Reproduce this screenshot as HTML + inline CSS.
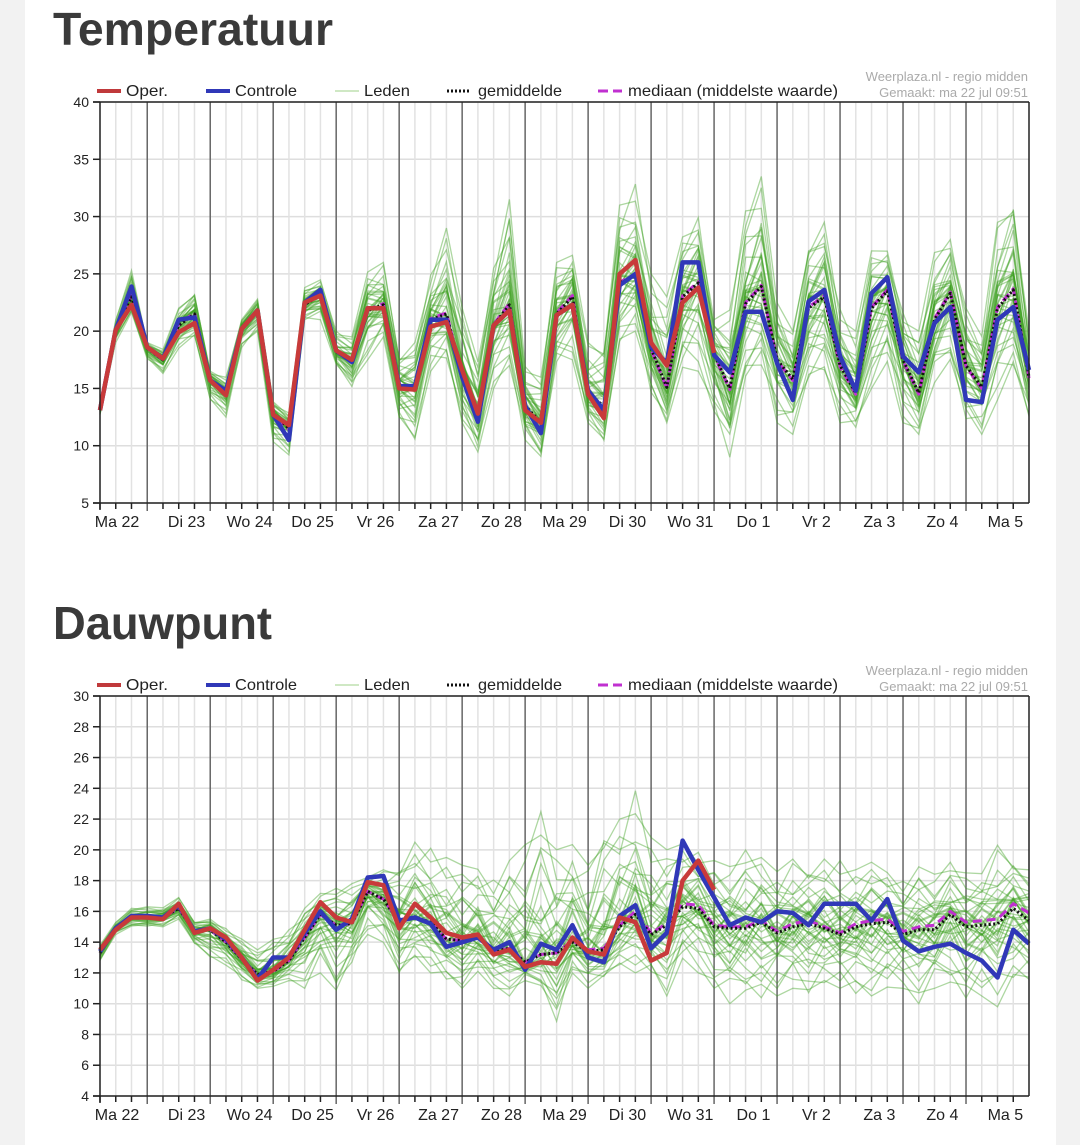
<!DOCTYPE html>
<html><head><meta charset="utf-8"><title>Temperatuur en Dauwpunt</title>
<style>
html,body{margin:0;padding:0;background:#f2f2f2;}
#wrap{position:relative;width:1080px;height:1145px;overflow:hidden;}
svg{display:block;font-family:"Liberation Sans",Arial,sans-serif;}
</style></head>
<body>
<div id="wrap">
<svg id="svg" width="1080" height="1145" viewBox="0 0 1080 1145">
  <rect x="0" y="0" width="1080" height="1145" fill="#f2f2f2"/>
  <rect x="25" y="0" width="1031" height="1145" fill="#ffffff"/>
  <text x="53" y="45" font-size="46" font-weight="bold" fill="#3a3a3a" textLength="280" lengthAdjust="spacingAndGlyphs">Temperatuur</text>
  <text x="53" y="639" font-size="46" font-weight="bold" fill="#3a3a3a" textLength="219" lengthAdjust="spacingAndGlyphs">Dauwpunt</text>
  <g id="chart1"></g>
  <g id="chart2"></g>
</svg>
</div>
<script>
// ---- shared categories ----
const dayLabels = ["Ma 22","Di 23","Wo 24","Do 25","Vr 26","Za 27","Zo 28","Ma 29","Di 30","Wo 31","Do 1","Vr 2","Za 3","Zo 4","Ma 5"];
const stepCount = 60; // 6-hourly points, starting Ma 22 06:00

// ---- temperature data ----
const tempOper = [13.1,20.1,22.3,18.6,17.6,19.9,20.7,15.7,14.4,20.2,21.8,12.7,11.8,22.5,23.1,18.3,17.5,22,22,15,14.9,20.4,20.8,16.6,12.8,20.5,21.8,13.1,12,21.4,22.3,14.5,12.4,25,26.2,19,17,22.5,23.8,18.1];
const tempControl = [13.1,20.1,23.9,18.6,17.6,21,21.2,15.7,14.8,20.2,21.8,12.7,10.5,22.5,23.6,18.3,17.3,22,22,15.2,15.2,21,21,16,12.1,20.5,21.8,13.5,11.1,21.4,22.3,14.8,13.1,24,25,18.6,17.2,26,26,17.9,16.4,21.7,21.7,17.2,14,22.6,23.6,17.8,14.8,23.3,24.7,17.8,16.4,20.7,22.1,14,13.8,21,22.1,16.6];
const tempMean = [13.2,20,23,18.5,17.5,20.5,21.5,15.8,14.6,20.3,21.8,12.8,11.5,22.3,23.2,18.2,17.4,21.8,22.3,15.3,15,21,21.5,16.2,12.8,20.5,22.3,13.5,12,21.5,23,14.4,13.5,24.2,24.8,18.5,15.1,23,24.2,18,15,22.4,23.9,17.5,15.8,22,23,17,14.6,22,23.5,17.5,14.6,21,23.3,17,15.1,22,23.6,16];
const tempMedian = [13.2,20,23.1,18.5,17.5,20.6,21.6,15.8,14.5,20.3,21.9,12.7,11.4,22.4,23.3,18.2,17.4,21.9,22.4,15.2,15,21.1,21.6,16.1,12.7,20.6,22.4,13.4,11.9,21.6,23.1,14.3,13.4,24.3,24.9,18.4,15,23.1,24.3,17.9,14.9,22.5,24,17.4,15.7,22.1,23.1,16.9,14.5,22.1,23.6,17.4,14.5,21.1,23.4,16.9,15,22.1,23.7,15.9];
const tempHigh = [13.5,21,25.3,19,18.5,22,23.5,16.5,16,21,22.8,14,13,23.8,24.5,20,19.5,25.5,26,18,19,25,29,22,18,26,31.5,17,16,26,27,19,19,31,33,25,23,29,30.5,21,22,30.5,33.5,23,20,28,29.5,22,20,27,27.5,22,20,27,28,22,20,29.5,32,20];
const tempLow = [12.7,19,21.5,17.5,16.3,18.5,19.3,14,12.5,18.5,20,10,9.2,21,21,17,15,17.5,19.5,12,10.5,16.5,17.5,12,9,15,17,10.5,8.8,17,17.5,12,10,19,20,14.5,12,16,16.5,13,9,15.5,16.5,12,11,15,16.5,12,11.5,15,16.5,12,11,15.5,17,12,11,14,16,12.5];
const tempTicks = [5,10,15,20,25,30,35,40];

// ---- dew point data ----
const dewOper = [13.5,14.8,15.6,15.6,15.5,16.5,14.6,14.9,14.3,13,11.5,12.2,13,14.8,16.6,15.6,15.3,17.9,17.7,14.9,16.5,15.6,14.6,14.3,14.5,13.2,13.5,12.4,12.7,12.6,14.3,13.4,13.2,15.6,15.3,12.8,13.3,18,19.3,17.4];
const dewControl = [13.4,14.9,15.7,15.7,15.6,16.4,14.7,14.9,14.2,13,11.6,13,13,14.6,16,14.8,15.5,18.2,18.3,15.4,15.6,15.2,13.7,14,14.3,13.5,14,12.2,13.9,13.5,15.1,13,12.7,15.7,16.4,13.6,14.6,20.6,18.7,16.9,15.1,15.6,15.3,16,15.9,15.1,16.5,16.5,16.5,15.4,16.8,14.1,13.4,13.7,13.9,13.3,12.8,11.7,14.8,13.9];
const dewMean = [13.3,14.9,15.6,15.6,15.6,16.2,14.7,14.8,14,12.9,11.9,12.1,12.8,14.3,15.8,15.1,15.2,17.3,16.8,15.3,15.6,15.3,14.2,14.1,14.3,13.4,13.6,12.7,13.2,13.3,14,13.4,13.5,15,15.8,14.5,15.1,16.3,16.2,15,14.9,14.9,15.3,14.6,15,15.2,14.9,14.5,15,15.2,15.3,14.5,14.8,14.8,15.8,15,15.1,15.2,16.2,15.4];
const dewMedian = [13.3,14.9,15.6,15.6,15.6,16.2,14.7,14.8,14,12.9,11.9,12.1,12.8,14.3,15.8,15.1,15.2,17.3,16.8,15.3,15.6,15.3,14.2,14.1,14.3,13.4,13.6,12.7,13.2,13.3,14.1,13.5,13.6,15.1,16,14.6,15.2,16.5,16.4,15.1,15,15,15.4,14.7,15.2,15.4,15,14.6,15.2,15.4,15.5,14.7,15,15.1,16,15.3,15.4,15.5,16.5,15.9];
const dewHigh = [13.8,15.3,16.2,16.3,16.3,16.9,15.4,15.5,14.9,14.2,13.5,14.5,15,16.2,17.2,17.5,17.8,18.3,18.7,19.2,20.5,20.2,19.5,19,19.4,18.5,19.3,20.5,22.5,20,21,19,22,22,24,20.8,20,21,20.2,19.3,19,20,19.5,19,19.4,19,19.4,19.4,18.7,19.2,19,18.3,18.9,18.5,19.2,18.5,18.8,20.3,19.5,18.7];
const dewLow = [12.8,14.5,15,15,15,15.5,13.8,13,12.5,11.5,11,11,11.5,11,12,10.5,12.5,14.5,14,11.5,13,12,11.5,11,11.8,11,10.5,11.5,11,8.5,12,11,11.5,12.5,12,12,10.5,12.5,12,11,10,10.5,10,10.5,11,10,11.3,11,10.5,10.5,10.5,11,10,11,11,10,10.5,9.8,11,11.5];
const dewTicks = [4,6,8,10,12,14,16,18,20,22,24,26,28,30];

// ---- ensemble member placement tables (fixed quantiles within spread) ----
const memberQuantiles = [0.02,0.1,0.18,0.25,0.3,0.34,0.38,0.41,0.44,0.46,0.48,0.5,0.52,0.54,0.56,0.59,0.62,0.66,0.7,0.75,0.82,0.9,0.98,0.36,0.43,0.47,0.51,0.55,0.6,0.64,0.4,0.45,0.49,0.53,0.57,0.68,0.3,0.72,0.15,0.85];
const memberWobble = [0.12,-0.18,0.05,0.22,-0.1,-0.25,0.15,0.02,-0.14,0.2,-0.06,0.09,-0.2];

const NS = "http://www.w3.org/2000/svg";
function mk(parent, tag, attrs){
  const e = document.createElementNS(NS, tag);
  for (const k in attrs) e.setAttribute(k, attrs[k]);
  parent.appendChild(e);
  return e;
}

function drawChart(gid, cfg){
  const g = document.getElementById(gid);
  const L = 100, R = 1029, T = cfg.top, B = cfg.bottom;
  const step = (R - L) / (stepCount - 1);
  const xAt = i => L + i * step;
  const yAt = v => B - (v - cfg.min) / (cfg.max - cfg.min) * (B - T);

  // legend
  const ly = T - 11;
  const leg = mk(g, 'g', {});
  
  
  const items = [
    {x:97, label:"Oper.", stroke:"#c0393b", w:4, dash:"none", tx:126, tl:42, name:"legend-oper"},
    {x:206, label:"Controle", stroke:"#3038b8", w:4, dash:"none", tx:235, tl:62, name:"legend-controle"},
    {x:335, label:"Leden", stroke:"#9fd28a", w:1, dash:"none", tx:364, tl:46, name:"legend-leden"},
    {x:447, label:"gemiddelde", stroke:"#111", w:3, dash:"2,2", tx:478, tl:84, name:"legend-gemiddelde"},
    {x:598, label:"mediaan (middelste waarde)", stroke:"#c030d0", w:3, dash:"10,5", tx:628, tl:210, name:"legend-mediaan"}
  ];
  items.forEach(it => {
    const ig = mk(leg, 'g', {});
    
    
    mk(ig, 'line', {x1:it.x, y1:ly, x2:it.x+(it.name==='legend-gemiddelde'?22:24), y2:ly, stroke:it.stroke, 'stroke-width':it.w, 'stroke-dasharray':it.dash});
    const t = mk(ig, 'text', {x:it.tx, y:ly+5, 'font-size':16, fill:'#222', textLength:it.tl, lengthAdjust:'spacingAndGlyphs'});
    t.textContent = it.label;
  });
  const c1 = mk(g, 'text', {x:1028, y:T-21, 'font-size':13, fill:'#aaa', 'text-anchor':'end'});
  
  
  c1.textContent = "Weerplaza.nl - regio midden";
  const c2 = mk(g, 'text', {x:1028, y:T-5, 'font-size':13, fill:'#aaa', 'text-anchor':'end'});
  
  
  c2.textContent = "Gemaakt: ma 22 jul 09:51";

  // grid
  const grid = mk(g, 'g', {});
  
  
  cfg.ticks.forEach(v => {
    mk(grid, 'line', {x1:L, x2:R, y1:yAt(v), y2:yAt(v), stroke:'#dedede', 'stroke-width':1.5});
  });
  for (let i = 0; i < stepCount; i++){
    if ((i + 1) % 4 !== 0) mk(grid, 'line', {x1:xAt(i), x2:xAt(i), y1:T, y2:B, stroke:'#e2e2e2', 'stroke-width':1.5});
  }
  for (let i = 3; i < stepCount - 1; i += 4){
    mk(grid, 'line', {x1:xAt(i), x2:xAt(i), y1:T, y2:B+8, stroke:'#666', 'stroke-width':1.5});
  }

  // members
  const mem = mk(g, 'g', {});
  
  
  memberQuantiles.forEach((q0, k) => {
    let d = '';
    for (let i = 0; i < stepCount; i++){
      let q = q0 + memberWobble[(i + k * 5) % memberWobble.length] * 0.45;
      q = Math.max(0, Math.min(1, q));
      const m = cfg.mean[i], hi = cfg.high[i], lo = cfg.low[i];
      const v = q < 0.5 ? m - (0.5 - q) * 2 * (m - lo) : m + (q - 0.5) * 2 * (hi - m);
      d += (i ? 'L' : 'M') + xAt(i).toFixed(1) + ',' + yAt(v).toFixed(1);
    }
    const p = mk(mem, 'path', {d:d, fill:'none', stroke:'rgba(60,160,30,0.42)', 'stroke-width':1.3});
    
    
  });

  function series(arr, attrs, name){
    let d = '';
    arr.forEach((v, i) => { d += (i ? 'L' : 'M') + xAt(i).toFixed(1) + ',' + yAt(v).toFixed(1); });
    attrs.d = d; attrs.fill = 'none'; attrs['stroke-linejoin'] = 'round';
    const p = mk(g, 'path', attrs);
    
    
  }
  series(cfg.median, {stroke:'#c030d0', 'stroke-width':3, 'stroke-dasharray':'9,5'}, 'median-line');
  series(cfg.mean, {stroke:'#111', 'stroke-width':3, 'stroke-dasharray':'2,2.5'}, 'mean-line');
  series(cfg.control, {stroke:'#3038b8', 'stroke-width':4.5}, 'controle-line');
  series(cfg.oper, {stroke:'#c83a3a', 'stroke-width':4.5}, 'oper-line');

  // frame + axes
  const ax = mk(g, 'g', {});
  
  
  mk(ax, 'line', {x1:L-7, x2:R, y1:T, y2:T, stroke:'#222', 'stroke-width':1.5});
  mk(ax, 'line', {x1:L-7, x2:R, y1:B, y2:B, stroke:'#222', 'stroke-width':1.5});
  mk(ax, 'line', {x1:L, x2:L, y1:T, y2:B+7, stroke:'#222', 'stroke-width':1.5});
  mk(ax, 'line', {x1:R, x2:R, y1:T, y2:B, stroke:'#222', 'stroke-width':1.5});
  cfg.ticks.forEach(v => {
    mk(ax, 'line', {x1:L-7, x2:L, y1:yAt(v), y2:yAt(v), stroke:'#222', 'stroke-width':1.5});
    const t = mk(ax, 'text', {x:L-11, y:yAt(v)+5, 'font-size':14, fill:'#222', 'text-anchor':'end'});
    
    
    t.textContent = v;
  });
  for (let i = 0; i < stepCount; i++){
    if ((i + 1) % 4 !== 0) mk(ax, 'line', {x1:xAt(i), x2:xAt(i), y1:B, y2:B+6, stroke:'#222', 'stroke-width':1.5});
  }
  dayLabels.forEach((lab, d) => {
    let cx = xAt(d * 4 + 1) + 0.5 * step;
    if (d === 0) cx = 117;
    const t = mk(ax, 'text', {x:cx, y:B+24, 'font-size':16, fill:'#222', 'text-anchor':'middle'});
    
    
    t.textContent = lab;
  });
}

drawChart('chart1', {top:102, bottom:503, min:5, max:40, ticks:tempTicks,
  oper:tempOper, control:tempControl, mean:tempMean, median:tempMedian, high:tempHigh, low:tempLow});
drawChart('chart2', {top:696, bottom:1096, min:4, max:30, ticks:dewTicks,
  oper:dewOper, control:dewControl, mean:dewMean, median:dewMedian, high:dewHigh, low:dewLow});
</script>
</body></html>
